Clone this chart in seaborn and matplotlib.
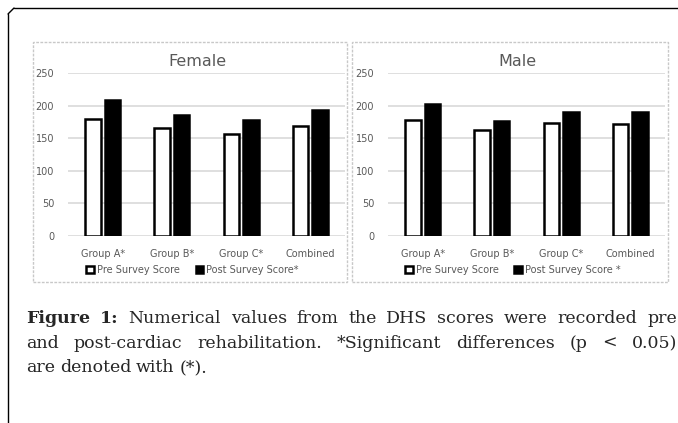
import matplotlib
matplotlib.use("Agg")
import matplotlib.pyplot as plt
import seaborn as sns
import pandas as pd
from matplotlib.patches import Rectangle
from matplotlib.lines import Line2D

categories = ["Group A*", "Group B*", "Group C*", "Combined"]
female_pre = [179, 166, 157, 168]
female_post = [209, 186, 178, 193]
male_pre = [178, 162, 174, 172]
male_post = [203, 177, 190, 190]
yticks = [0, 50, 100, 150, 200, 250]

sns.set_theme(style="white")
plt.rcParams['font.family'] = ['DejaVu Sans']

W, H = 678, 423
fig = plt.figure(figsize=(W/100, H/100), dpi=100)

def fx(px): return px / W
def fy(py): return 1 - py / H

GRAY = "#595959"

def panel(left_px, right_px, title, pre, post, pre_lab, post_lab):
    ax = fig.add_axes([fx(left_px), fy(236), fx(right_px - left_px), (236 - 73) / H])
    df = pd.DataFrame({
        "cat": categories * 2,
        "val": pre + post,
        "series": [pre_lab] * 4 + [post_lab] * 4,
    })
    sns.barplot(data=df, x="cat", y="val", hue="series", ax=ax,
                palette=["white", "black"], edgecolor="black", linewidth=1.8,
                width=0.56, gap=0.2, saturation=1)
    ax.set_ylim(0, 250)
    ax.set_yticks(yticks)
    ax.set_xlabel("")
    ax.set_ylabel("")
    ax.grid(axis="y", color="#d9d9d9", linewidth=1.2)
    ax.set_axisbelow(True)
    for s in ax.spines.values():
        s.set_visible(False)
    ax.tick_params(axis="both", length=0, colors=GRAY, labelsize=7)
    ax.tick_params(axis="y", pad=10)
    ax.tick_params(axis="x", pad=9)
    ax.set_title(title, color=GRAY, fontsize=11.5, pad=5, x=0.469)
    h, l = ax.get_legend_handles_labels()
    ax.get_legend().remove()
    ax.legend(h, l, loc="upper center", bbox_to_anchor=(0.45, -0.125), ncol=2,
              frameon=False, fontsize=7, labelcolor=GRAY, handlelength=0.8,
              handleheight=0.8, handletextpad=0.3, columnspacing=1.6)
    return ax

panel(68, 345, "Female", female_pre, female_post, "Pre Survey Score", "Post Survey Score*")
panel(388, 665, "Male", male_pre, male_post, "Pre Survey Score", "Post Survey Score *")

# chart panel borders
for x0, x1 in [(33, 347), (352, 668)]:
    fig.add_artist(Rectangle((fx(x0), fy(282)), fx(x1 - x0), (282 - 42) / H,
                             transform=fig.transFigure, fill=False,
                             edgecolor="#c8c8c8", linestyle=(0, (2, 1)), linewidth=1))

# outer frame
fig.add_artist(Line2D([fx(8), fx(8)], [0, fy(14)], transform=fig.transFigure, color="black", lw=1))
fig.add_artist(Line2D([fx(14), 1], [fy(8), fy(8)], transform=fig.transFigure, color="black", lw=1))
fig.add_artist(Line2D([fx(8), fx(14)], [fy(14), fy(8)], transform=fig.transFigure, color="black", lw=1))

serif = ['DejaVu Serif']
FS = 12.5
renderer = fig.canvas.get_renderer()

def justified(words, y_px, x0=26, x1=None):
    arts = []
    for w, bold in words:
        t = fig.text(0, fy(y_px), w, fontsize=FS, family=serif, va="baseline",
                     fontweight="bold" if bold else "normal")
        arts.append(t)
    widths = [t.get_window_extent(renderer).width for t in arts]
    natural = renderer.points_to_pixels(FS) * 0.28
    if x1 is None or len(arts) < 2:
        gap = natural
    else:
        gap = max((x1 - x0 - sum(widths)) / (len(arts) - 1), natural * 0.5)
    x = x0
    for t, wd in zip(arts, widths):
        t.set_x(fx(x))
        x += wd + gap

line1 = [("Figure", True), ("1:", True)] + [(w, False) for w in "Numerical values from the DHS scores were recorded pre".split()]
line2 = [(w, False) for w in "and post-cardiac rehabilitation. *Significant differences (p < 0.05)".split()]
line3 = [(w, False) for w in "are denoted with (*).".split()]
justified(line1, 323, 26, 677)
justified(line2, 348, 26, 677)
justified(line3, 372)

fig.savefig("out.png", dpi=100)
